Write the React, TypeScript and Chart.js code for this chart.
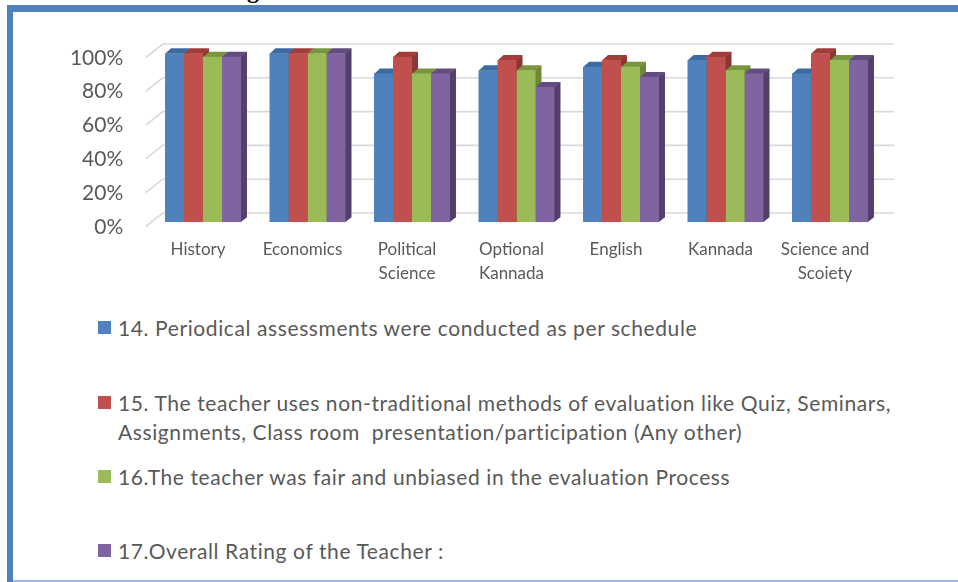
import React, { useEffect, useRef } from "react";
import { Chart, registerables } from "chart.js";

Chart.register(...registerables);

// ---------- data ----------
const categories: string[][] = [
  ["History"],
  ["Economics"],
  ["Political", "Science"],
  ["Optional", "Kannada"],
  ["English"],
  ["Kannada"],
  ["Science and", "Scoiety"],
];

const seriesNames: string[][] = [
  ["14. Periodical assessments were conducted as per schedule"],
  [
    "15. The teacher uses non-traditional methods of evaluation like Quiz, Seminars,",
    "Assignments, Class room  presentation/participation (Any other)",
  ],
  ["16.The teacher was fair and unbiased in the evaluation Process"],
  ["17.Overall Rating of the Teacher :"],
];

const periodicalAssessments = [1.0, 1.0, 0.88, 0.9, 0.92, 0.96, 0.88];
const nonTraditionalMethods = [1.0, 1.0, 0.98, 0.96, 0.96, 0.98, 1.0];
const fairUnbiased = [0.98, 1.0, 0.88, 0.9, 0.92, 0.9, 0.96];
const overallRating = [0.98, 1.0, 0.88, 0.8, 0.86, 0.88, 0.96];

const yTickLabels = ["0%", "20%", "40%", "60%", "80%", "100%"];

// ---------- styles ----------
const frontColors = ["#4F81BD", "#C0504D", "#9BBB59", "#8064A2"];
const topColors = ["#3E6A9F", "#9E3D3A", "#7A953F", "#624C80"];
const sideColors = ["#375D8B", "#8C3633", "#6E8838", "#533F6C"];
const TEXT = "#595959";
const GRID = "#D9D9D9";

// 3D offsets (relative to bar front faces)
const BAR_DX = 6;
const BAR_DY = 5;
const WALL_DX = 12;
const WALL_DY = 9.3;
const FLOOR_DX = -5;
const FLOOR_DY = 4.2;

const threeD = {
  id: "threeD",
  beforeDatasetsDraw(chart: any) {
    const { ctx, chartArea, scales } = chart;
    const y = scales.y;
    ctx.save();
    // back wall gridlines + side-wall diagonals
    ctx.strokeStyle = GRID;
    ctx.lineWidth = 1.6;
    y.ticks.forEach((t: any) => {
      const py = y.getPixelForValue(t.value);
      ctx.beginPath();
      ctx.moveTo(chartArea.left + FLOOR_DX, py + FLOOR_DY);
      ctx.lineTo(chartArea.left + WALL_DX, py - WALL_DY);
      ctx.lineTo(chartArea.right + WALL_DX, py - WALL_DY);
      ctx.stroke();
    });
    const metas = chart.data.datasets.map((_: any, i: number) => chart.getDatasetMeta(i));
    // side faces
    metas.forEach((meta: any, di: number) => {
      ctx.fillStyle = sideColors[di];
      meta.data.forEach((el: any) => {
        const p = el.getProps(["x", "y", "base", "width"], true);
        const r = p.x + p.width / 2;
        ctx.beginPath();
        ctx.moveTo(r - 0.5, p.y);
        ctx.lineTo(r + BAR_DX, p.y - BAR_DY);
        ctx.lineTo(r + BAR_DX, p.base - BAR_DY);
        ctx.lineTo(r - 0.5, p.base);
        ctx.closePath();
        ctx.fill();
      });
    });
    // top faces
    metas.forEach((meta: any, di: number) => {
      ctx.fillStyle = topColors[di];
      meta.data.forEach((el: any) => {
        const p = el.getProps(["x", "y", "base", "width"], true);
        const l = p.x - p.width / 2;
        const r = p.x + p.width / 2;
        ctx.beginPath();
        ctx.moveTo(l, p.y + 0.5);
        ctx.lineTo(l + BAR_DX, p.y - BAR_DY);
        ctx.lineTo(r + BAR_DX, p.y - BAR_DY);
        ctx.lineTo(r, p.y + 0.5);
        ctx.closePath();
        ctx.fill();
      });
    });
    ctx.restore();
  },
};

function ChartCanvas() {
  const ref = useRef<HTMLCanvasElement | null>(null);
  useEffect(() => {
    if (!ref.current) return;
    const series = [periodicalAssessments, nonTraditionalMethods, fairUnbiased, overallRating];
    const chart = new Chart(ref.current, {
      type: "bar",
      data: {
        labels: categories,
        datasets: series.map((d, i) => ({
          label: seriesNames[i].join(" "),
          data: d,
          backgroundColor: frontColors[i],
          borderWidth: 0,
          barPercentage: 1,
          categoryPercentage: 0.727,
        })),
      },
      options: {
        responsive: false,
        animation: false,
        devicePixelRatio: 1,
        layout: { padding: { left: 0, right: 75.75, top: 53.3, bottom: 0 } },
        plugins: { legend: { display: false }, tooltip: { enabled: false } },
        scales: {
          x: {
            grid: { display: false, drawTicks: false },
            border: { display: false },
            ticks: {
              color: TEXT,
              font: { family: "Lato", size: 17, lineHeight: 1.37 },
              padding: 16,
              labelOffset: -5,
              maxRotation: 0,
              autoSkip: false,
            },
            afterFit: (s: any) => {
              s.height = 290 - 222.3;
            },
          },
          y: {
            min: 0,
            max: 1,
            grid: { display: false, drawTicks: false },
            border: { display: false },
            ticks: {
              stepSize: 0.2,
              color: TEXT,
              font: { family: "Lato", size: 21 },
              padding: 27.5,
              labelOffset: 4.5,
              callback: (_v: any, i: number) => yTickLabels[i],
            },
            afterFit: (s: any) => {
              s.width = 150.75;
            },
          },
        },
      },
      plugins: [threeD],
    });
    return () => chart.destroy();
  }, []);
  return (
    <canvas
      ref={ref}
      width={958}
      height={290}
      style={{ position: "absolute", left: 0, top: 0, width: 958, height: 290 }}
    />
  );
}

const legendCenters = [327.5, 402, 476, 550];

export default function App() {
  return (
    <div
      style={{
        position: "fixed",
        left: 0,
        top: 0,
        width: 958,
        height: 582,
        background: "#fff",
        overflow: "hidden",
      }}
    >
      <span
        style={{
          position: "absolute",
          left: 247,
          top: -22,
          fontFamily: "'Liberation Serif'",
          fontWeight: "bold",
          fontSize: 24,
          lineHeight: "24px",
          color: "#000",
        }}
      >
        g
      </span>
      <div style={{ position: "absolute", left: 7, top: 5, width: 951, height: 7, background: "#4F81BD" }} />
      <div style={{ position: "absolute", left: 7, top: 5, width: 6, height: 577, background: "#4F81BD" }} />
      <div style={{ position: "absolute", left: 13, top: 580, width: 945, height: 2, background: "#A3BBDA" }} />
      <ChartCanvas />
      {seriesNames.map((lines, i) => (
        <div
          key={i}
          style={{
            position: "absolute",
            left: 98,
            top: legendCenters[i] - 14.5,
            display: "flex",
            alignItems: "flex-start",
            fontFamily: "Lato",
            fontSize: 21,
            letterSpacing: "0.6px",
            lineHeight: "29px",
            color: TEXT,
            whiteSpace: "pre",
          }}
        >
          <span
            style={{
              display: "inline-block",
              width: 13,
              height: 13,
              marginTop: 8,
              marginRight: 7,
              background: frontColors[i],
              flex: "none",
            }}
          />
          <div>
            {lines.map((t, j) => (
              <div key={j}>{t}</div>
            ))}
          </div>
        </div>
      ))}
    </div>
  );
}
